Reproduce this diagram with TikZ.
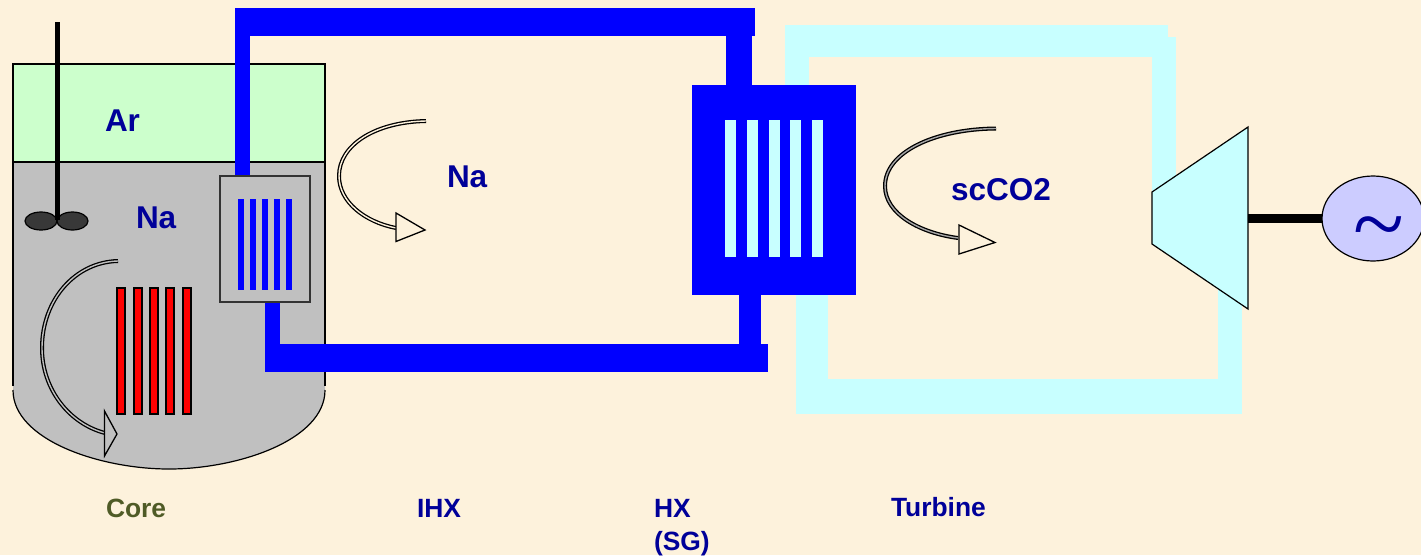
\documentclass[tikz,border=0pt]{standalone}
\usepackage{fontspec}
\setmainfont{Liberation Sans}
\newfontfamily\tildefont{Liberation Serif}
\usepackage{xcolor}
\usetikzlibrary{positioning,calc,shapes.geometric}
\definecolor{paper}{HTML}{FDF2DC}
\definecolor{naBlue}{HTML}{0000FF}
\definecolor{co2Cyan}{HTML}{C8FFFF}
\definecolor{argon}{HTML}{CCFFCC}
\definecolor{sodium}{HTML}{C0C0C0}
\definecolor{labelBlue}{HTML}{000099}
\definecolor{labelOlive}{HTML}{4F5B26}
\definecolor{genFill}{HTML}{CCCCFF}
\tikzset{
	lbl/.style={anchor=base west,inner sep=0pt,outer sep=0pt,text=labelBlue,font=\bfseries\fontsize{31.5}{31.5}\selectfont},
	capLbl/.style={lbl,font=\bfseries\fontsize{26.4}{33}\selectfont,align=left},
	naPipe/.style={fill=naBlue,draw=none},
	co2Pipe/.style={fill=co2Cyan,draw=none},
	flowLine/.style={double=paper,double distance=1.4pt,line width=1.3pt,black},
	flowHead/.style={draw=black,line width=1.3pt,fill=paper,line join=miter},
}
\begin{document}
\begin{tikzpicture}[x=1pt,y=-1pt]
		\useasboundingbox (0,0) rectangle (1421,555);
		\fill[paper] (0,0) rectangle (1421,555);

		% vessel
		\fill[sodium] (13,162) -- (325,162) -- (325,390) .. controls (325,440) and (238,469) .. (169,469) .. controls (100,469) and (13,440) .. (13,390) -- cycle;
		\draw[line width=1.6pt] (13,386) -- (13,162) -- (325,162) -- (325,386);
		\draw[line width=1.2pt] (13,390) .. controls (13,440) and (100,469) .. (169,469) .. controls (238,469) and (325,440) .. (325,390);
		\node[draw=black,fill=argon,line width=1.6pt,minimum width=312pt,minimum height=98pt,outer sep=0pt,inner sep=0pt] (gas) at (169,113) {};
		\node[lbl] (ar) at (105,131) {Ar};
		\node[lbl] (naPool) at (136,228) {Na};

		% cyan loop
		\fill[co2Pipe] (785,25) rectangle (1168,57);
		\fill[co2Pipe] (785,25) rectangle (809,100);
		\fill[co2Pipe] (1152,37) rectangle (1176,200);
		\fill[co2Pipe] (796,280) rectangle (828,414);
		\fill[co2Pipe] (796,379) rectangle (1242,414);
		\fill[co2Pipe] (1218,280) rectangle (1242,414);

		% blue loop
		\fill[naPipe] (235,8) rectangle (755,36);
		\fill[naPipe] (235,8) rectangle (250,178);
		\fill[naPipe] (726,36) rectangle (752,90);
		\fill[naPipe] (739,290) rectangle (761,350);
		\fill[naPipe] (265,344) rectangle (768,372);
		\fill[naPipe] (265,300) rectangle (280,350);

		% IHX
		\node[draw=black!80,fill=sodium,line width=1.4pt,minimum width=90pt,minimum height=126pt,outer sep=0pt,inner sep=0pt] (ihx) at (265,239) {};
		\foreach \x in {238,250,262,274,286}
			\fill[naBlue] (\x,199) rectangle (\x+6,290);

		% HX
		\node[fill=naBlue,minimum width=164pt,minimum height=210pt,outer sep=0pt,inner sep=0pt] (hx) at (774,190) {};
		\foreach \x in {725,747,769,790,812}
			\fill[co2Cyan] (\x,120) rectangle (\x+11,257);

		% core
		\foreach \x/\w in {117/8,134/8,150/8,166/8,183/8}
			\draw[fill=red,line width=1.6pt] (\x,288) rectangle (\x+\w,414);

		% stirrer
		\draw[line width=1.2pt,fill=black!78] (41,221) ellipse[x radius=16,y radius=9];
		\draw[line width=1.2pt,fill=black!78] (72.5,221) ellipse[x radius=15.5,y radius=9];
		\draw[line width=5pt] (57.5,22) -- (57.5,220);

		% flow arrows
		\draw[flowLine,double=black!25] (118,261) .. controls (75,262) and (42,300) .. (42,348) .. controls (42,390) and (70,424) .. (105,433);
		\draw[flowHead,fill=sodium] (104.5,411) -- (117,434) -- (104.5,456) -- cycle;
		\draw[flowLine] (426,121) .. controls (375,122) and (339,145) .. (339,176) .. controls (339,202) and (365,222) .. (396,228);
		\draw[flowHead] (396,213) -- (425,230) -- (396,241.5) -- cycle;
		\draw[flowLine,double=black!35] (996,128.5) .. controls (935,129) and (885,152) .. (885,186) .. controls (885,214) and (920,233) .. (958,238);
		\draw[flowHead] (959,225) -- (995,242.5) -- (959,254) -- cycle;

		% turbine and generator
		\node[draw=black,fill=genFill,line width=1.2pt,ellipse,minimum width=102pt,minimum height=85pt,inner sep=0pt,outer sep=0pt] (gen) at (1373,218.5) {};
		\draw[draw=black,fill=co2Cyan,line width=1.2pt] (1152,192) -- (1248,127) -- (1248,309) -- (1152,244) -- cycle;
		\coordinate (turb) at (1248,218.5);
		\draw[line width=8.5pt] (turb) -- (gen.west);
		\node[text=labelBlue,inner sep=0pt,font=\tildefont\fontsize{94}{94}\selectfont] (ac) at (1378.5,236) {\symbol{126}};

		% labels
		\node[lbl] (naLoop) at (447,187) {Na};
		\node[lbl] (co2) at (951,200.5) {scCO2};
		\node[capLbl,text=labelOlive] (core) at (106,517) {Core};
		\node[capLbl] (ihxLbl) at (417,517) {IHX};
		\node[capLbl,anchor=north west,yshift=18pt] (hxLbl) at (654,517) {HX\\(SG)};
		\node[capLbl] (turbLbl) at (891,516.5) {Turbine};
	\end{tikzpicture}
\end{document}
